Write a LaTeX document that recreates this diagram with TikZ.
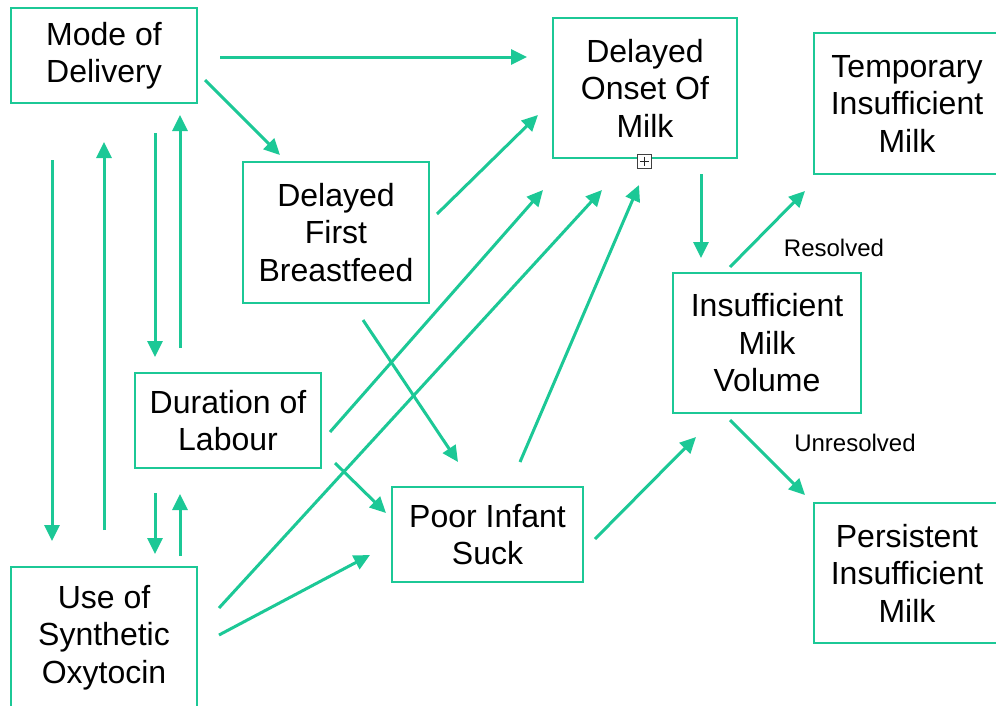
\documentclass[tikz,border=0pt]{standalone}
\usepackage{fontspec}
\setmainfont{Liberation Sans}
\usetikzlibrary{arrows.meta}
\definecolor{mint}{RGB}{28,200,150}
\tikzset{
  factor/.style={draw=mint,line width=2.8pt,align=center,inner sep=0pt,
    font=\fontsize{32}{37.5}\selectfont},
  link/.style={draw=mint,line width=3pt,-{Triangle[length=16pt,width=15pt]}},
  tag/.style={font=\fontsize{24}{28}\selectfont}
}
\begin{document}
\begin{tikzpicture}[x=1pt,y=-1pt]
\useasboundingbox (0,0) rectangle (996,705);
% factors
\node[factor,minimum width=186pt,minimum height=95pt] (mode) at (104,55.5) {Mode of\\Delivery};
\node[factor,minimum width=184pt,minimum height=140pt] (onset) at (645,88) {Delayed\\Onset Of\\Milk};
\node[factor,minimum width=186pt,minimum height=141pt] (temp) at (907,103.5) {Temporary\\Insufficient\\Milk};
\node[factor,minimum width=186pt,minimum height=141pt] (dfb) at (336,232.5) {Delayed\\First\\Breastfeed};
\node[factor,minimum width=188pt,minimum height=140pt] (insuf) at (767,343) {Insufficient\\Milk\\Volume};
\node[factor,minimum width=186pt,minimum height=95pt] (dur) at (228,420.5) {Duration of\\Labour};
\node[factor,minimum width=191pt,minimum height=95pt] (poor) at (487.5,534.5) {Poor Infant\\Suck};
\node[factor,minimum width=186pt,minimum height=140pt] (pers) at (907,573) {Persistent\\Insufficient\\Milk};
\node[factor,minimum width=186pt,minimum height=141pt] (oxy) at (104,637.5) {Use of\\Synthetic\\Oxytocin};
\node[draw=gray!50!black,fill=white,line width=0.9pt,minimum size=14pt,inner sep=0pt,
  path picture={\draw[line width=0.9pt,gray!30!black]
    ([shift={(-4.5,0)}]path picture bounding box.center) -- ([shift={(4.5,0)}]path picture bounding box.center)
    ([shift={(0,-4.5)}]path picture bounding box.center) -- ([shift={(0,4.5)}]path picture bounding box.center);}]
  (expand) at (644.5,161) {};
% links
\draw[link] ([shift={(116,1.5)}]mode.center) -- ([shift={(-118,-31)}]onset.center);
\draw[link] ([shift={(101,24.5)}]mode.center) -- ([shift={(-56,-77.5)}]dfb.center);
\draw[link] ([shift={(-52,104.5)}]mode.center) -- ([shift={(-52,-96.5)}]oxy.center);
\draw[link] ([shift={(0,-107.5)}]oxy.center) -- ([shift={(0,86.5)}]mode.center);
\draw[link] ([shift={(51,77.5)}]mode.center) -- ([shift={(-73,-63.5)}]dur.center);
\draw[link] ([shift={(-48,-72.5)}]dur.center) -- ([shift={(76,59.5)}]mode.center);
\draw[link] ([shift={(-73,72.5)}]dur.center) -- ([shift={(51,-83.5)}]oxy.center);
\draw[link] ([shift={(76,-81.5)}]oxy.center) -- ([shift={(-48,73.5)}]dur.center);
\draw[link] ([shift={(101,-18.5)}]dfb.center) -- ([shift={(-107,27)}]onset.center);
\draw[link] ([shift={(102,11.5)}]dur.center) -- ([shift={(-102,102)}]onset.center);
\draw[link] ([shift={(115,-29.5)}]oxy.center) -- ([shift={(-43,102)}]onset.center);
\draw[link] ([shift={(32.5,-72.5)}]poor.center) -- ([shift={(-6,97)}]onset.center);
\draw[link] ([shift={(27,87.5)}]dfb.center) -- ([shift={(-29.5,-72.5)}]poor.center);
\draw[link] ([shift={(107,42.5)}]dur.center) -- ([shift={(-101.5,-21.5)}]poor.center);
\draw[link] ([shift={(115,-2.5)}]oxy.center) -- ([shift={(-117.5,20.5)}]poor.center);
\draw[link] ([shift={(107.5,4.5)}]poor.center) -- ([shift={(-71,94)}]insuf.center);
\draw[link] ([shift={(56,86)}]onset.center) -- ([shift={(-66,-85)}]insuf.center);
\draw[link] ([shift={(-37,-76)}]insuf.center) -- ([shift={(-102,87.5)}]temp.center);
\draw[link] ([shift={(-37,77)}]insuf.center) -- ([shift={(-102,-78)}]pers.center);
% outcome tags
\node[tag] (resolved) at (834,247.5) {Resolved};
\node[tag] (unresolved) at (855,443) {Unresolved};
\end{tikzpicture}
\end{document}
